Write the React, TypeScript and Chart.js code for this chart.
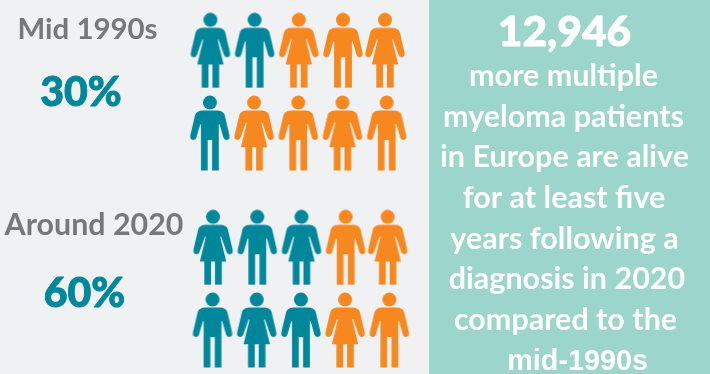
import React, { useEffect, useRef } from "react";
import { Chart, registerables } from "chart.js";

Chart.register(...registerables);

// Share of patients alive five years after diagnosis, per period
const periods = ["Mid 1990s", "Around 2020"];
const survivalPercent = [30, 60];
const survivalLabels = ["30%", "60%"];

// Pictogram figures, ten per period, read row by row: f = woman, m = man
const figuresMid1990s = ["f", "m", "f", "m", "f", "m", "f", "m", "f", "m"];
const figuresAround2020 = ["f", "m", "f", "m", "f", "m", "f", "m", "f", "m"];

const headline = "12,946";
const bodyLines = [
  "more multiple",
  "myeloma patients",
  "in Europe are alive",
  "for at least five",
  "years following a",
  "diagnosis in 2020",
  "compared to the",
  "mid-1990s",
];

const TEAL = "#00879c";
const ORANGE = "#f78820";
const PAGE_BG = "#f0f1f3";
const PANEL_BG = "#9bd5cc";
const GREY = "#76787a";
const FONT = "Lato, sans-serif";

const W = 710;
const H = 374;
const ICON_W = 44;
const ICON_H = 76;
const ROWS = 2;
const COLS = 5;

// Scale windows: one x unit is a column of figures, one y unit a row of figures
const X_UNIT = 44.2;
const Y_UNIT = 82.7;
const X_MIN = -210.4 / X_UNIT;
const Y_MIN = -50.3 / Y_UNIT;
const GROUP_GAP = 2.382;
const GROUP_SHIFT = 0.06;

// Draws one half of a figure's body, with x = 0 on its axis of symmetry
function halfBody(ctx: CanvasRenderingContext2D, kind: string) {
  ctx.beginPath();
  ctx.moveTo(0, 15);
  ctx.lineTo(7, 15);
  ctx.quadraticCurveTo(13.4, 15.2, 14.8, 19.5);
  ctx.lineTo(19.6, 40);
  ctx.arc(16.5, 41.2, 3.1, -0.2, Math.PI - 0.25);
  if (kind === "m") {
    ctx.lineTo(9.6, 28.5);
    ctx.lineTo(8.9, 29);
    ctx.lineTo(8.9, 74.8);
    ctx.lineTo(2.2, 74.8);
    ctx.lineTo(2.2, 44.5);
    ctx.lineTo(0, 44.5);
  } else {
    ctx.lineTo(8, 26.5);
    ctx.lineTo(7.3, 27.5);
    ctx.lineTo(13.2, 51.7);
    ctx.lineTo(8.7, 51.7);
    ctx.lineTo(8.7, 74.8);
    ctx.lineTo(2, 74.8);
    ctx.lineTo(2, 51.7);
    ctx.lineTo(0, 51.7);
  }
  ctx.closePath();
  ctx.fill();
}

function makeFigure(kind: string, color: string): HTMLCanvasElement {
  const c = document.createElement("canvas");
  c.width = ICON_W;
  c.height = ICON_H;
  const ctx = c.getContext("2d")!;
  ctx.fillStyle = color;
  ctx.translate(ICON_W / 2, 0.6);
  ctx.beginPath();
  ctx.arc(0, 7, 7, 0, Math.PI * 2);
  ctx.fill();
  halfBody(ctx, kind);
  ctx.scale(-1, 1);
  halfBody(ctx, kind);
  return c;
}

// Rows two and four sit a touch left; the last figure of the upper rows is pulled in
function rowPoints(figures: string[], groupIndex: number, rowIndex: number) {
  return figures.slice(rowIndex * COLS, rowIndex * COLS + COLS).map((_, col) => ({
    x:
      col +
      groupIndex * GROUP_SHIFT -
      rowIndex * 0.012 +
      (rowIndex === 0 && col === COLS - 1 ? -0.05 : 0),
    y: groupIndex * GROUP_GAP + rowIndex * 1.0,
  }));
}

function buildDatasets() {
  const sets = [figuresMid1990s, figuresAround2020];
  const out: any[] = [];
  sets.forEach((figures, g) => {
    // Figures are coloured column by column, from the left
    const filled = survivalPercent[g] / (100 / figures.length);
    [0, 1].forEach((r) => {
      out.push({
        label: `${periods[g]} row ${r + 1}`,
        data: rowPoints(figures, g, r),
        pointRadius: 10,
        pointStyle: figures
          .slice(r * COLS, r * COLS + COLS)
          .map((kind, col) =>
            makeFigure(kind, col * ROWS + r < filled ? TEAL : ORANGE)
          ),
      });
    });
  });
  return out;
}

type Line = {
  text: string;
  x: number;
  y: number;
  font: string;
  color: string;
  stroke?: number;
};

const textLines: Line[] = [
  { text: periods[0], x: 87.5, y: 39, font: `700 29.4px ${FONT}`, color: GREY },
  { text: survivalLabels[0], x: 81, y: 106, font: `900 41px ${FONT}`, color: TEAL, stroke: 0.9 },
  { text: periods[1], x: 94, y: 235, font: `700 30.4px ${FONT}`, color: GREY },
  { text: survivalLabels[1], x: 84.5, y: 307, font: `900 41px ${FONT}`, color: TEAL, stroke: 0.9 },
  { text: headline, x: 564.5, y: 46, font: `900 42.6px ${FONT}`, color: "#ffffff", stroke: 0.9 },
  ...bodyLines.map((text, i) => ({
    text,
    x: [563.5, 563.5, 564.5, 564, 564.5, 567, 565.5, 577.7][i],
    y: [86, 127, 167, 208, 249, 289, 330, 370][i],
    font:
      i === bodyLines.length - 1
        ? `700 28.8px "Liberation Sans", sans-serif`
        : `700 30.5px ${FONT}`,
    color: "#ffffff",
  })),
];

const backdrop = {
  id: "backdrop",
  beforeDraw(chart: Chart) {
    const ctx = chart.ctx;
    ctx.save();
    ctx.fillStyle = PAGE_BG;
    ctx.fillRect(0, 0, W, H);
    ctx.fillStyle = PANEL_BG;
    ctx.fillRect(429, 0, W - 429, H);
    ctx.textAlign = "center";
    ctx.textBaseline = "alphabetic";
    ctx.lineJoin = "round";
    textLines.forEach((l) => {
      ctx.font = l.font;
      ctx.fillStyle = l.color;
      ctx.fillText(l.text, l.x, l.y);
      if (l.stroke) {
        ctx.strokeStyle = l.color;
        ctx.lineWidth = l.stroke;
        ctx.strokeText(l.text, l.x, l.y);
      }
    });
    ctx.restore();
  },
};

export default function App() {
  const ref = useRef<HTMLCanvasElement>(null);

  useEffect(() => {
    document.body.style.margin = "0";
    const chart = new Chart(ref.current!, {
      type: "scatter",
      data: { datasets: buildDatasets() },
      options: {
        animation: false,
        responsive: false,
        events: [],
        layout: { padding: 0, autoPadding: false },
        plugins: { legend: { display: false }, tooltip: { enabled: false } },
        scales: {
          x: { type: "linear", display: false, min: X_MIN, max: X_MIN + W / X_UNIT },
          y: {
            type: "linear",
            display: false,
            reverse: true,
            min: Y_MIN,
            max: Y_MIN + H / Y_UNIT,
          },
        },
      },
      plugins: [backdrop],
    });
    return () => chart.destroy();
  }, []);

  return <canvas ref={ref} width={W} height={H} style={{ display: "block" }} />;
}
